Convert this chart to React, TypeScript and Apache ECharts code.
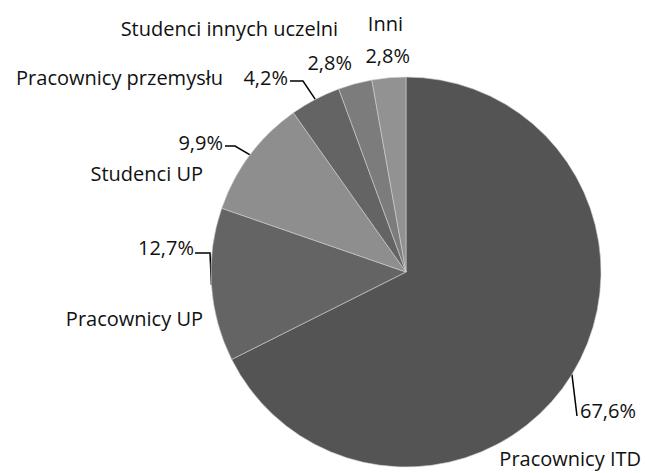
import React, { useEffect, useRef } from "react";
import * as echarts from "echarts";

const categories = [
  "Pracownicy ITD",
  "Pracownicy UP",
  "Studenci UP",
  "Pracownicy przemysłu",
  "Studenci innych uczelni",
  "Inni",
];
const values = [67.6, 12.7, 9.9, 4.2, 2.8, 2.8];
const colors = ["#545454", "#646464", "#8e8e8e", "#646464", "#7c7c7c", "#929292"];

// label layout (manual placement as in the reference)
const pctPos: { x: number; y: number; align: string; elbow: number[] | null; end: number[] | null }[] = [
  { x: 580, y: 410, align: "left", elbow: null, end: [577, 416] },
  { x: 194, y: 247, align: "right", elbow: [210, 253], end: [195, 253] },
  { x: 223, y: 142, align: "right", elbow: [235, 146], end: [225, 146] },
  { x: 288, y: 77, align: "right", elbow: [303, 81], end: [290, 81] },
  { x: 352, y: 62, align: "right", elbow: null, end: null },
  { x: 410, y: 55, align: "right", elbow: null, end: null },
];
const namePos: { x: number; y: number }[] = [
  { x: 641, y: 458 },
  { x: 203, y: 318 },
  { x: 203, y: 173 },
  { x: 223, y: 77 },
  { x: 338, y: 28 },
  { x: 403, y: 23 },
];

const FONT = "'Open Sans', sans-serif";
const FS = 20;

export default function App() {
  const ref = useRef<HTMLDivElement>(null);
  useEffect(() => {
    if (!ref.current) return;
    const chart = echarts.init(ref.current, undefined, { renderer: "svg" });
    const data = categories.map((c, i) => ({
      name: c,
      value: values[i],
      itemStyle: { color: colors[i] },
    }));
    const common = {
      type: "pie",
      center: [406, 272],
      radius: [0, 195],
      startAngle: 90,
      clockwise: true,
      animation: false,
    };
    chart.setOption({
      animation: false,
      backgroundColor: "#ffffff",
      series: [
        {
          ...common,
          data,
          itemStyle: { borderColor: "#d0d0d0", borderWidth: 0.6 },
          label: {
            show: true,
            position: "outside",
            overflow: "none",
            formatter: (p: any) => p.value.toFixed(1).replace(".", ",") + "%",
            color: "#111111",
            fontFamily: FONT,
            fontSize: FS,
          },
          labelLine: {
            show: true,
            lineStyle: { color: "#000000", width: 1.5 },
          },
          labelLayout: (params: any) => {
            const pos = pctPos[params.dataIndex];
            const start = params.labelLinePoints ? params.labelLinePoints[0] : null;
            let pts: number[][] | undefined;
            if (start && pos.end) {
              pts = pos.elbow ? [start, pos.elbow, pos.end] : [start, [(start[0] + pos.end[0]) / 2, (start[1] + pos.end[1]) / 2], pos.end];
            } else if (start) {
              pts = [start, start, start];
            }
            return {
              x: pos.x,
              y: pos.y,
              align: pos.align,
              verticalAlign: "middle",
              labelLinePoints: pts,
            };
          },
          emphasis: { disabled: true },
        },
        {
          ...common,
          data: categories.map((c, i) => ({ name: c, value: values[i] })),
          itemStyle: { color: "rgba(0,0,0,0)" },
          silent: true,
          label: {
            show: true,
            position: "outside",
            overflow: "none",
            formatter: "{b}",
            color: "#111111",
            fontFamily: FONT,
            fontSize: FS,
          },
          labelLine: { show: false },
          labelLayout: (params: any) => {
            const pos = namePos[params.dataIndex];
            return { x: pos.x, y: pos.y, align: "right", verticalAlign: "middle" };
          },
          emphasis: { disabled: true },
        },
      ],
    });
    return () => chart.dispose();
  }, []);
  return <div ref={ref} style={{ width: 645, height: 473, position: "absolute", left: 0, top: 0 }} />;
}
